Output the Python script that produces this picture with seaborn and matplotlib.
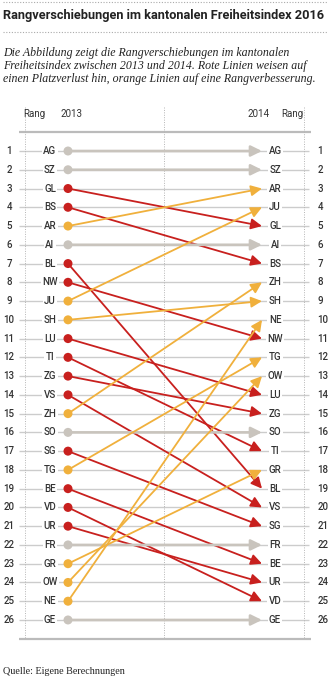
import matplotlib
matplotlib.use('Agg')
import matplotlib.pyplot as plt
from matplotlib.lines import Line2D
import seaborn as sns
import pandas as pd

# ranks of the cantons in 2013 and 2014
order_2013 = ['AG', 'SZ', 'GL', 'BS', 'AR', 'AI', 'BL', 'NW', 'JU', 'SH', 'LU', 'TI', 'ZG',
              'VS', 'ZH', 'SO', 'SG', 'TG', 'BE', 'VD', 'UR', 'FR', 'GR', 'OW', 'NE', 'GE']
order_2014 = ['AG', 'SZ', 'AR', 'JU', 'GL', 'AI', 'BS', 'ZH', 'SH', 'NE', 'NW', 'TG', 'OW',
              'LU', 'ZG', 'SO', 'TI', 'GR', 'BL', 'VS', 'SG', 'FR', 'BE', 'UR', 'VD', 'GE']

RED = '#c8201e'
ORANGE = '#f0b03c'
GREY = '#c9c4bd'
TXT = '#333333'
palette = {'down': RED, 'up': ORANGE, 'same': GREY}

df = pd.DataFrame({'kanton': order_2013, 'rang_2013': range(1, 27)})
df['rang_2014'] = df['kanton'].map({k: i + 1 for i, k in enumerate(order_2014)})
df['change'] = 'same'
df.loc[df['rang_2014'] > df['rang_2013'], 'change'] = 'down'
df.loc[df['rang_2014'] < df['rang_2013'], 'change'] = 'up'
df['x'] = 0

sns.set_style('white')
sans = ['Roboto', 'DejaVu Sans']
serif = ['Liberation Serif', 'DejaVu Serif']
plt.rcParams['font.family'] = sans

fig = plt.figure(figsize=(3.3, 6.8), dpi=100)
ax = fig.add_axes([0, 0, 1, 1])

# row lines
ax.hlines(df['rang_2013'], -0.254, 1.24, color='#cccccc', lw=1.0, zorder=1)
ax.hlines([0, 27], -0.254, 1.25, color='#bbbbbb', lw=1.6, zorder=1)
ax.vlines([-0.222, 0.495, 1.216], -1.35, 27, color='#b5b5b5', lw=0.7,
          linestyles=(0, (1, 1.5)), zorder=1)

# connecting arrows
for _, row in df.iterrows():
    c = palette[row['change']]
    ax.annotate('', xy=(1, row['rang_2014']), xytext=(0, row['rang_2013']),
                arrowprops=dict(arrowstyle='-|>,head_length=0.65,head_width=0.32',
                                mutation_scale=10, color=c, shrinkA=0, shrinkB=0,
                                lw=1.9 if row['change'] == 'same' else 1.3),
                zorder=3)

sns.scatterplot(data=df, x='x', y='rang_2013', hue='change', palette=palette,
                s=42, edgecolor='none', legend=False, ax=ax, zorder=4)
ax.set_xlim(-0.3505, 1.3505)
ax.set_ylim(29.2, -7.05)
ax.axis('off')

box = dict(facecolor='white', edgecolor='none', pad=1.0)
fs = 7
for i in range(26):
    r = i + 1
    ax.text(-0.304, r, str(r), ha='center', va='center', fontsize=fs, color=TXT,
            bbox=box, zorder=2, fontweight='medium')
    ax.text(1.285, r, str(r), ha='left', va='center', fontsize=fs, color=TXT,
            bbox=box, zorder=2, fontweight='medium')
    ax.text(-0.093, r, order_2013[i], ha='center', va='center', fontsize=fs,
            color=TXT, bbox=box, zorder=2, fontweight='medium')
    ax.text(1.067, r, order_2014[i], ha='center', va='center', fontsize=fs,
            color=TXT, bbox=box, zorder=2, fontweight='medium')

ax.text(-0.175, -0.97, 'Rang', ha='center', va='center', fontsize=fs, color=TXT)
ax.text(0.02, -0.97, '2013', ha='center', va='center', fontsize=fs, color=TXT)
ax.text(0.98, -0.97, '2014', ha='center', va='center', fontsize=fs, color=TXT)
ax.text(1.155, -0.97, 'Rang', ha='center', va='center', fontsize=fs, color=TXT)

# header
for yy in [1 - 2 / 680, 1 - 32 / 680]:
    fig.add_artist(Line2D([0.01, 0.99], [yy, yy], color='#aaaaaa', lw=0.8,
                          linestyle=(0, (1, 1.5))))
fig.text(0.01, 1 - 16 / 680, 'Rangverschiebungen im kantonalen Freiheitsindex 2016',
         ha='left', va='center', fontsize=9.2, fontweight='bold', color='#222222')
fig.text(0.01, 1 - 66 / 680,
         'Die Abbildung zeigt die Rangverschiebungen im kantonalen\n'
         'Freiheitsindex zwischen 2013 und 2014. Rote Linien weisen auf\n'
         'einen Platzverlust hin, orange Linien auf eine Rangverbesserung.',
         ha='left', va='center', fontsize=8.6, style='italic', family=serif,
         color='#222222', linespacing=1.15)
fig.text(0.01, 1 - 671 / 680, 'Quelle: Eigene Berechnungen', ha='left', va='center',
         fontsize=7.3, family=serif, color='#222222')

fig.savefig('out.png', dpi=100)
